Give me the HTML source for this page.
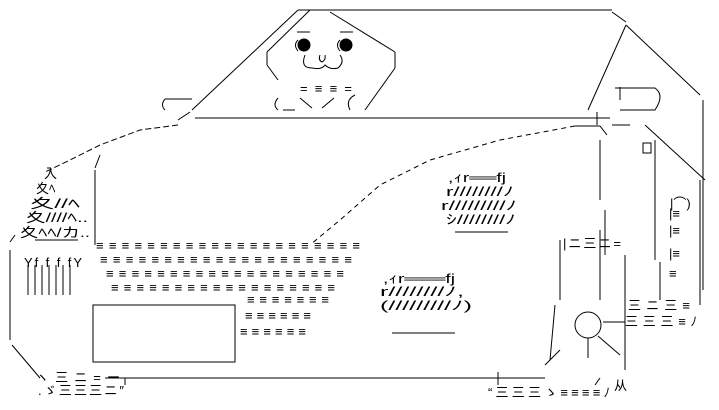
<!DOCTYPE html>
<html><head><meta charset="utf-8"><style>
html,body{margin:0;padding:0;background:#fff;}
svg{display:block}
text{font-family:"Liberation Sans","Noto Sans CJK JP",sans-serif;font-size:13px;fill:#000}
</style></head><body>
<svg width="719" height="410" viewBox="0 0 719 410" xmlns="http://www.w3.org/2000/svg">
<g stroke="#000" stroke-width="1" fill="none">
<line x1="298" y1="10" x2="612" y2="10"/>
<line x1="298" y1="10" x2="192" y2="110"/>
<line x1="310" y1="10" x2="267" y2="52"/>
<line x1="612" y1="12" x2="626" y2="22"/>
<line x1="626" y1="25" x2="700" y2="95"/>
<line x1="626" y1="25" x2="588" y2="110"/>
<line x1="703" y1="100" x2="703" y2="290"/>
<line x1="330" y1="12" x2="395" y2="52"/>
<line x1="395" y1="52" x2="395" y2="68"/>
<line x1="395" y1="68" x2="365" y2="110"/>
<line x1="267" y1="52" x2="267" y2="65"/>
<line x1="267" y1="65" x2="278" y2="80"/>
<line x1="195" y1="118" x2="610" y2="118"/>
<line x1="597" y1="112" x2="597" y2="125"/>
<line x1="178" y1="120" x2="190" y2="112"/>
<line x1="165" y1="99" x2="192" y2="99"/>
<path d="M165 99 Q160 105 165 110"/>
<path d="M615 88 L655 88 Q665 95 655 110 L620 110"/>
<line x1="620" y1="87" x2="620" y2="100"/>
<line x1="612" y1="125" x2="630" y2="125"/>
<line x1="645" y1="125" x2="705" y2="180"/>
<line x1="575" y1="126" x2="600" y2="126"/>
<line x1="600" y1="126" x2="607" y2="135"/>
<line x1="600" y1="140" x2="600" y2="200"/>
<line x1="605" y1="210" x2="605" y2="255"/>
<line x1="655" y1="140" x2="655" y2="260"/>
<line x1="660" y1="262" x2="660" y2="300"/>
<line x1="700" y1="180" x2="700" y2="305"/>
<rect x="643" y="143" width="8" height="10"/>
<path d="M178 125 L140 130 L100 145 L70 160 L45 172" stroke-dasharray="6 3"/>
<path d="M575 126 L500 140 L430 160 L380 185 L340 220 L310 245" stroke-dasharray="5 4"/>
<line x1="95" y1="170" x2="95" y2="245"/>
<line x1="100" y1="155" x2="95" y2="168"/>
<line x1="10" y1="250" x2="10" y2="340"/>
<line x1="10" y1="242" x2="15" y2="235"/>
<path d="M12 345 L40 378"/>
<line x1="35" y1="240" x2="78" y2="240"/>
<line x1="28" y1="265" x2="28" y2="295"/><line x1="35" y1="265" x2="35" y2="295"/>
<line x1="42" y1="265" x2="42" y2="295"/><line x1="49" y1="265" x2="49" y2="295"/>
<line x1="56" y1="265" x2="56" y2="295"/><line x1="63" y1="265" x2="63" y2="295"/>
<line x1="70" y1="265" x2="70" y2="295"/>
<rect x="93" y="305" width="142" height="57"/>
<line x1="105" y1="378" x2="545" y2="378"/>
<line x1="498" y1="372" x2="498" y2="385"/>
<line x1="125" y1="378" x2="125" y2="385"/>
<line x1="560" y1="240" x2="560" y2="300"/>
<line x1="555" y1="305" x2="550" y2="360"/>
<line x1="600" y1="230" x2="600" y2="300"/>
<line x1="545" y1="365" x2="560" y2="350"/>
<circle cx="588" cy="325" r="13"/>
<line x1="588" y1="338" x2="588" y2="358"/>
<line x1="598" y1="336" x2="620" y2="355"/>
<line x1="603" y1="322" x2="625" y2="322"/>
<line x1="625" y1="255" x2="625" y2="370"/>
<line x1="595" y1="385" x2="600" y2="378"/>
<circle cx="304" cy="45" r="6" fill="#000"/>
<circle cx="346" cy="45" r="6" fill="#000"/>
<path d="M298 40 Q293 45 298 51"/><path d="M340 40 Q335 45 340 51"/>
<line x1="297" y1="32" x2="310" y2="32"/><line x1="340" y1="32" x2="353" y2="32"/>
<path d="M305 55 Q300 68 312 68 Q322 70 325 65 Q330 70 338 68 Q345 62 340 55"/>
<path d="M320 55 Q318 60 322 62 Q326 60 325 55"/>
<path d="M278 98 Q272 105 278 110"/>
<line x1="283" y1="110" x2="295" y2="110"/>
<line x1="300" y1="98" x2="312" y2="108"/><line x1="322" y1="108" x2="334" y2="98"/>
<path d="M355 95 Q345 100 350 110"/>
<line x1="455" y1="232" x2="508" y2="232"/>
<line x1="392" y1="333" x2="455" y2="333"/>
</g>
<g>
<text x="300" y="93" textLength="52" lengthAdjust="spacing">=≡≡=</text>
<text x="44" y="178">入</text>
<text x="36" y="193">夊ﾍ</text>
<text x="30" y="208" textLength="50" lengthAdjust="spacingAndGlyphs">夊//ﾍ</text>
<text x="26" y="222" textLength="62" lengthAdjust="spacingAndGlyphs">夊////ﾍ..</text>
<text x="20" y="237" textLength="70" lengthAdjust="spacingAndGlyphs">夊ﾍﾍ/カ..</text>
<text x="24" y="267" textLength="58" lengthAdjust="spacing">Yf f f fY</text>
<text x="96" y="250" textLength="264" lengthAdjust="spacing">≡≡≡≡≡≡≡≡≡≡≡≡≡≡≡≡≡≡≡≡≡</text>
<text x="100" y="264" textLength="252" lengthAdjust="spacing">≡≡≡≡≡≡≡≡≡≡≡≡≡≡≡≡≡≡≡≡</text>
<text x="106" y="278" textLength="238" lengthAdjust="spacing">≡≡≡≡≡≡≡≡≡≡≡≡≡≡≡≡≡≡≡</text>
<text x="111" y="292" textLength="224" lengthAdjust="spacing">≡≡≡≡≡≡≡≡≡≡≡≡≡≡≡≡≡≡</text>
<text x="247" y="304" textLength="82" lengthAdjust="spacing">≡≡≡≡≡≡≡</text>
<text x="245" y="320" textLength="66" lengthAdjust="spacing">≡≡≡≡≡≡</text>
<text x="240" y="336" textLength="66" lengthAdjust="spacing">≡≡≡≡≡≡</text>
<text x="448" y="182" textLength="58" lengthAdjust="spacingAndGlyphs">,ｨr══fj</text>
<text x="446" y="196" textLength="68" lengthAdjust="spacingAndGlyphs">r////////ﾉ</text>
<text x="441" y="210" textLength="76" lengthAdjust="spacingAndGlyphs">r/////////ﾉ</text>
<text x="446" y="224" textLength="70" lengthAdjust="spacingAndGlyphs">ｼ////////ﾉ</text>
<text x="383" y="283" textLength="72" lengthAdjust="spacingAndGlyphs">,ｨr═══fj</text>
<text x="380" y="296" textLength="84" lengthAdjust="spacingAndGlyphs">r////////ﾉ,</text>
<text x="380" y="310" textLength="92" lengthAdjust="spacingAndGlyphs">(/////////ﾉ)</text>
<text x="36" y="382" textLength="84" lengthAdjust="spacing">ヽ三ニ=ー</text>
<text x="38" y="395" textLength="86" lengthAdjust="spacing">.ゞ三三三ニ″</text>
<text x="488" y="397" textLength="122" lengthAdjust="spacing">“三三三ゝ≡≡≡≡ﾉ</text>
<text x="563" y="248" textLength="58" lengthAdjust="spacing">|ニ三ニ=</text>
<text x="628" y="310" textLength="62" lengthAdjust="spacing">三ニ三≡</text>
<text x="625" y="326" textLength="72" lengthAdjust="spacing">三三三≡ﾉ</text>
<text x="669" y="218">|≡</text>
<text x="669" y="235">|≡</text>
<text x="669" y="258">|≡</text>
<text x="669" y="278">≡</text>
<text x="670" y="208">|⌒)</text>
<text x="614" y="390">从</text>
</g>
</svg>
</body></html>
